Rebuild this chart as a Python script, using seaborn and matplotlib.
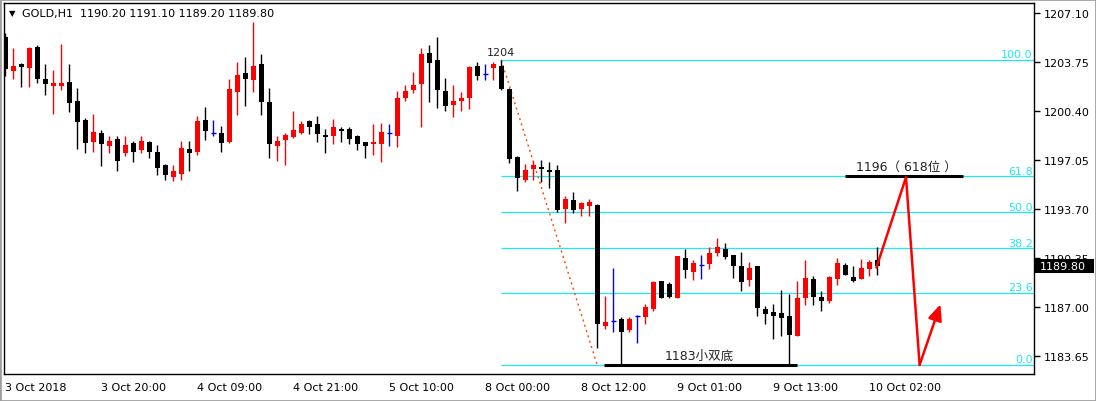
import numpy as np
import pandas as pd
import seaborn as sns
import matplotlib.pyplot as plt
from matplotlib.patches import Rectangle
import matplotlib.transforms as mtransforms

# hourly candles (open, high, low, close)
opens = [1205.46, 1203.16, 1203.64, 1203.36, 1204.78, 1202.59, 1202.13, 1202.13, 1202.39, 1201.09,
         1199.79, 1198.31, 1198.90, 1198.04, 1198.49, 1197.54, 1198.20, 1197.76, 1198.29, 1197.61,
         1196.72, 1195.92, 1196.12, 1197.81, 1197.63, 1199.79, 1198.92, 1198.90, 1198.31, 1201.73,
         1203.00, 1202.54, 1203.62, 1201.02, 1198.04, 1198.45, 1198.65, 1198.92, 1199.72, 1199.52,
         1198.77, 1198.72, 1199.20, 1199.18, 1198.70, 1198.29, 1198.17, 1198.17, 1198.88, 1198.72,
         1201.29, 1201.84, 1202.27, 1204.37, 1203.89, 1201.77, 1200.82, 1201.09, 1201.29, 1203.48,
         1202.96, 1203.34, 1203.48, 1201.91, 1197.26, 1195.71, 1196.47, 1196.58, 1196.38, 1196.38,
         1193.73, 1194.33, 1193.73, 1193.94, 1193.99, 1185.74, 1186.08, 1186.20, 1185.47, 1186.38,
         1186.36, 1186.86, 1188.79, 1188.59, 1187.65, 1190.37, 1189.43, 1189.87, 1189.95, 1190.71,
         1190.98, 1190.57, 1189.82, 1188.88, 1189.82, 1186.88, 1186.68, 1186.61, 1186.43, 1185.06,
         1187.65, 1188.95, 1187.70, 1187.45, 1188.93, 1189.89, 1189.07, 1188.93, 1189.59, 1190.20]
highs = [1205.73, 1204.71, 1203.71, 1204.80, 1204.91, 1203.62, 1203.21, 1204.98, 1203.62, 1201.98,
         1199.95, 1200.20, 1199.11, 1198.72, 1198.72, 1198.70, 1198.36, 1198.70, 1198.38, 1198.08,
         1196.80, 1196.72, 1198.36, 1198.36, 1200.06, 1200.68, 1199.79, 1199.38, 1202.59, 1203.75,
         1204.09, 1206.49, 1204.30, 1201.98, 1198.70, 1198.90, 1200.41, 1199.72, 1199.81, 1200.06,
         1199.18, 1199.86, 1199.33, 1199.31, 1198.77, 1198.32, 1199.52, 1199.59, 1199.52, 1201.77,
         1202.18, 1203.07, 1204.71, 1204.91, 1205.46, 1202.66, 1202.18, 1201.70, 1203.48, 1203.75,
         1203.62, 1203.75, 1203.89, 1201.95, 1197.30, 1196.79, 1196.99, 1197.06, 1196.92, 1196.72,
         1194.60, 1194.87, 1194.19, 1194.40, 1194.02, 1187.77, 1189.68, 1186.36, 1186.36, 1186.47,
         1187.22, 1188.82, 1188.82, 1188.75, 1190.50, 1190.98, 1190.23, 1190.57, 1191.12, 1191.73,
         1191.39, 1190.60, 1190.77, 1190.09, 1189.85, 1187.07, 1187.22, 1188.18, 1187.90, 1188.82,
         1190.25, 1189.16, 1188.11, 1189.10, 1190.39, 1190.02, 1189.82, 1190.30, 1190.23, 1191.10]
lows = [1202.80, 1202.59, 1202.07, 1202.07, 1202.34, 1201.52, 1200.22, 1201.86, 1200.36, 1197.83,
        1197.56, 1197.63, 1196.67, 1197.54, 1196.33, 1197.35, 1196.94, 1197.56, 1197.22, 1196.06,
        1195.71, 1195.64, 1195.71, 1196.33, 1197.42, 1198.45, 1198.72, 1197.63, 1198.25, 1200.15,
        1200.77, 1201.73, 1200.15, 1197.22, 1197.01, 1196.74, 1198.58, 1198.85, 1198.86, 1198.31,
        1197.56, 1198.17, 1198.31, 1198.17, 1197.76, 1197.22, 1197.42, 1196.94, 1198.04, 1197.97,
        1201.11, 1201.66, 1199.33, 1201.04, 1200.63, 1200.43, 1200.00, 1200.41, 1200.54, 1202.52,
        1202.52, 1202.52, 1201.84, 1196.88, 1194.96, 1195.58, 1195.71, 1195.58, 1195.17, 1193.53,
        1192.78, 1193.46, 1193.25, 1193.25, 1184.20, 1185.54, 1185.33, 1183.05, 1185.33, 1184.58,
        1185.88, 1186.74, 1187.61, 1187.65, 1187.65, 1189.02, 1188.88, 1188.95, 1189.61, 1190.50,
        1190.30, 1189.00, 1188.13, 1188.48, 1186.43, 1185.88, 1184.86, 1185.06, 1183.00, 1185.04,
        1187.17, 1187.17, 1186.77, 1187.27, 1188.54, 1189.23, 1188.71, 1188.93, 1189.16, 1189.20]
closes = [1203.27, 1203.48, 1203.43, 1204.71, 1202.59, 1202.27, 1202.32, 1202.32, 1200.97, 1199.68,
          1198.24, 1198.95, 1198.17, 1198.36, 1197.01, 1198.08, 1197.63, 1198.36, 1197.63, 1196.53,
          1196.06, 1196.31, 1197.88, 1197.56, 1199.72, 1199.06, 1198.92, 1198.24, 1201.91, 1202.86,
          1202.61, 1203.48, 1201.04, 1198.17, 1198.36, 1198.77, 1199.11, 1199.52, 1199.33, 1198.86,
          1198.65, 1199.31, 1199.06, 1198.51, 1198.17, 1198.04, 1198.29, 1198.97, 1198.88, 1201.29,
          1201.77, 1202.18, 1204.30, 1203.71, 1201.86, 1200.77, 1201.09, 1201.29, 1203.41, 1202.82,
          1202.96, 1203.62, 1201.93, 1197.15, 1195.85, 1196.38, 1196.72, 1196.47, 1196.26, 1193.66,
          1194.40, 1193.66, 1194.12, 1194.19, 1185.88, 1185.99, 1186.08, 1185.33, 1186.20, 1186.38,
          1187.02, 1188.75, 1187.65, 1187.72, 1190.50, 1189.57, 1190.02, 1189.87, 1190.71, 1191.12,
          1190.43, 1189.82, 1188.75, 1189.68, 1186.97, 1186.56, 1186.43, 1186.29, 1185.13, 1187.65,
          1189.02, 1187.72, 1187.41, 1189.07, 1190.02, 1189.23, 1188.77, 1189.68, 1190.09, 1189.80]

# x axis labels every 12 bars
time_labels = ["3 Oct 2018", "3 Oct 20:00", "4 Oct 09:00", "4 Oct 21:00", "5 Oct 10:00",
               "8 Oct 00:00", "8 Oct 12:00", "9 Oct 01:00", "9 Oct 13:00", "10 Oct 02:00"]
price_ticks = [1207.10, 1203.75, 1200.40, 1197.05, 1193.70, 1190.35, 1187.00, 1183.65]

# fibonacci retracement from the 1204 high to the 1183 low
fib_levels = [100.0, 61.8, 50.0, 38.2, 23.6, 0.0]
fib_high = 1203.90
fib_low = 1183.05
fib_start_bar = 62
fib_end_bar = 74

# hand drawn forecast (bar, price)
path_bars = [108.9, 112.6, 114.3]
path_prices = [1189.71, 1195.88, 1183.06]
arrow_end = (116.9, 1187.20)

last_ohlc = "1190.20 1191.10 1189.20 1189.80"

sns.set_theme(style="white")
plt.rcParams["font.family"] = ["DejaVu Sans", "Noto Sans CJK SC"]

df = pd.DataFrame({"open": opens, "high": highs, "low": lows, "close": closes})
df["bar"] = np.arange(len(df))
df["color"] = np.where(df["close"] > df["open"], "#ff0000",
                       np.where(df["close"] < df["open"], "#000000", "#0000ff"))

fig = plt.figure(figsize=(10.96, 4.02), dpi=100)
fig.patch.set_facecolor("white")
ax = fig.add_axes([4 / 1096, 1 - 375 / 402, 1030 / 1096, 371 / 402])
ax.set_facecolor("white")

ax.set_xlim(-0.16, 128.6)
ax.set_ylim(1182.44, 1207.78)

# fib lines
fib_color = "#1ee8f5"
fib_prices = [fib_low + lv / 100 * (fib_high - fib_low) for lv in fib_levels]
for lv, p in zip(fib_levels, fib_prices):
    ax.hlines(p, fib_start_bar, 128.6, color=fib_color, lw=0.9, zorder=1)
    ax.text(128.45, p + 0.06, f"{lv:.1f}", color=fib_color, fontsize=8,
            ha="right", va="bottom", zorder=2)

# fib trend line
trend = pd.DataFrame({"bar": [fib_start_bar, fib_end_bar], "price": [fib_high, fib_low]})
sns.lineplot(data=trend, x="bar", y="price", ax=ax, color="#ff4500", lw=1,
             linestyle=(0, (1.5, 2.5)), zorder=2)

# candles
ax.vlines(df["bar"], df["low"], df["high"], colors=df["color"], lw=1.0, zorder=3)
body = df[df["close"] != df["open"]]
ax.bar(body["bar"], (body["close"] - body["open"]).abs(),
       bottom=body[["open", "close"]].min(axis=1), width=0.62,
       color=body["color"], linewidth=0, zorder=4)
doji = df[df["close"] == df["open"]]
ax.hlines(doji["open"], doji["bar"] - 0.31, doji["bar"] + 0.31,
          colors=doji["color"], lw=1.0, zorder=4)

# annotations
ax.text(fib_start_bar, fib_high + 0.2, "1204", fontsize=8, color="#222222",
        ha="center", va="bottom")
ax.hlines(fib_low, 74.8, 99.0, color="black", lw=2.2, zorder=5)
ax.text(86.8, fib_low + 0.2, "1183小双底", fontsize=9, color="#222222",
        ha="center", va="bottom")
ax.hlines(fib_prices[1], 105.0, 119.7, color="black", lw=2.2, zorder=5)
ax.text(112.6, fib_prices[1] + 0.25, "1196（ 618位 ）", fontsize=9, color="#222222",
        ha="center", va="bottom")

path = pd.DataFrame({"bar": path_bars, "price": path_prices})
sns.lineplot(data=path, x="bar", y="price", ax=ax, color="#ff0000", lw=1.8,
             sort=False, zorder=6)
ax.annotate("", xy=arrow_end, xytext=(path_bars[-1], path_prices[-1]),
            arrowprops=dict(arrowstyle="-|>,head_length=0.8,head_width=0.35",
                            color="#ff0000", lw=1.8, shrinkA=0, shrinkB=0), zorder=6)

# axes styling
ax.set_xlabel("")
ax.set_ylabel("")
ax.yaxis.tick_right()
ax.set_yticks(price_ticks)
ax.set_yticklabels([f"{p:.2f}" for p in price_ticks])
ax.set_xticks(np.arange(0, 12 * len(time_labels), 12))
ax.set_xticklabels(time_labels)
for lab in ax.get_xticklabels():
    lab.set_ha("left")
ax.tick_params(axis="both", which="both", direction="out", length=4, width=1,
               colors="black", labelsize=8)
ax.tick_params(axis="y", pad=3)
ax.tick_params(axis="x", pad=2)
for s in ax.spines.values():
    s.set_visible(True)
    s.set_color("black")
    s.set_linewidth(1)

# last price box
trans = mtransforms.blended_transform_factory(ax.transAxes, ax.transData)
ax.add_patch(Rectangle((1.001, closes[-1] - 0.48), 59 / 1030, 0.96, transform=trans,
                       fc="black", ec="none", clip_on=False, zorder=9))
ax.text(1.0055, closes[-1], f"{closes[-1]:.2f}", transform=trans, fontsize=8,
        color="white", ha="left", va="center", zorder=10, clip_on=False)

# header
fig.text(9 / 1096, 1 - 14 / 402, "▼", fontsize=6, color="black", va="center")
fig.text(22 / 1096, 1 - 14 / 402, "GOLD,H1  " + last_ohlc, fontsize=8,
         color="black", va="center")

# window frame
fig.patches.append(Rectangle((0, 0), 1, 1, transform=fig.transFigure, fill=False,
                             ec="#a0a0a0", lw=2))

fig.savefig("out.png", dpi=100)
